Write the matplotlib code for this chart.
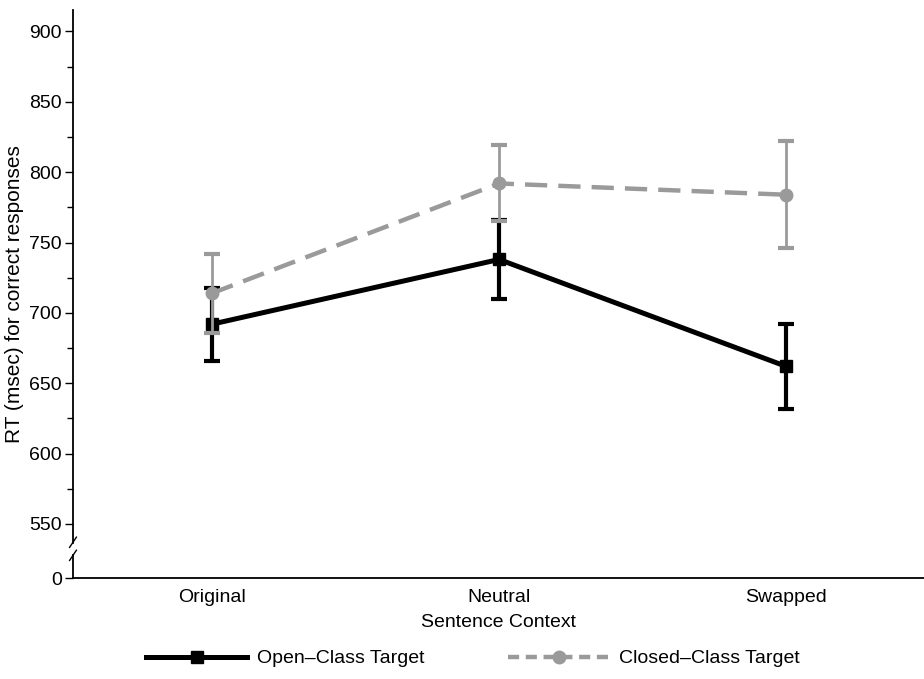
import numpy as np
import matplotlib
matplotlib.use("Agg")
import matplotlib.pyplot as plt
from matplotlib.lines import Line2D

contexts = ["Original", "Neutral", "Swapped"]
open_rt = [692, 738, 662]
open_err = [26, 28, 30]
closed_rt = [714, 792, 784]
closed_err = [28, 27, 38]

# broken axis: values above 530 are linear, 0..530 squeezed into a short stub
def fwd(y):
    y = np.asarray(y, dtype=float)
    return np.where(y >= 530, y, 511.6 + y * (530 - 511.6) / 530)

def inv(y):
    y = np.asarray(y, dtype=float)
    return np.where(y >= 530, y, (y - 511.6) * 530 / (530 - 511.6))

plt.rcParams['font.family'] = ['Liberation Sans', 'DejaVu Sans']

fig = plt.figure(figsize=(9.24, 6.79), dpi=100)
ax = fig.add_axes([0.079, 0.1487, 0.921, 0.836])
ax.set_yscale('function', functions=(fwd, inv))
ax.set_ylim(0, 915)
ax.set_xlim(-0.484, 2.48)

x = np.arange(len(contexts))
ax.errorbar(x, open_rt, yerr=open_err, color='black', lw=3.6, marker='s', ms=9,
            capsize=6, capthick=3, elinewidth=3, zorder=2)
ax.errorbar(x, closed_rt, yerr=closed_err, color='#9a9a9a', lw=3.2, ls=(0, (5, 2.5)),
            marker='o', ms=9, capsize=6, capthick=3, elinewidth=2, zorder=3)

ax.set_yticks([0, 550, 600, 650, 700, 750, 800, 850, 900])
ax.set_yticks([575, 625, 675, 725, 775, 825, 875], minor=True)
ax.tick_params(axis='y', which='major', length=6, width=1, labelsize=14, direction='out', pad=2)
ax.tick_params(axis='y', which='minor', length=4, width=1, direction='out')
ax.tick_params(axis='x', length=0, labelsize=14, pad=8)
ax.set_xticks(x)
ax.set_xticklabels(contexts)

for s in ['top', 'right', 'left']:
    ax.spines[s].set_visible(False)
ax.spines['bottom'].set_linewidth(1.3)

# left spine drawn in two pieces with break marks (axes fraction coords)
ta = ax.transAxes
ax.plot([0, 0], [0, 0.040], transform=ta, color='black', lw=1.3, clip_on=False)
ax.plot([0, 0], [0.062, 1], transform=ta, color='black', lw=1.3, clip_on=False)
ax.plot([-0.004, 0.004], [0.054, 0.072], transform=ta, color='black', lw=1, clip_on=False)
ax.plot([-0.004, 0.004], [0.031, 0.049], transform=ta, color='black', lw=1, clip_on=False)

ax.set_xlabel('Sentence Context', fontsize=14, labelpad=6)
ax.set_ylabel('RT (msec) for correct responses', fontsize=15, labelpad=4)

handles = [
    Line2D([], [], color='black', lw=3.6, marker='s', ms=9),
    Line2D([], [], color='#9a9a9a', lw=3.2, ls=(0, (2.5, 1.5)), marker='o', ms=9),
]
fig.legend(handles, ['Open\u2013Class Target', 'Closed\u2013Class Target'],
           loc='center', bbox_to_anchor=(0.512, 0.03), ncol=2, frameon=False,
           fontsize=14, handlelength=5.2, columnspacing=4.3, handletextpad=0.5)

fig.savefig('out.png', dpi=100)
